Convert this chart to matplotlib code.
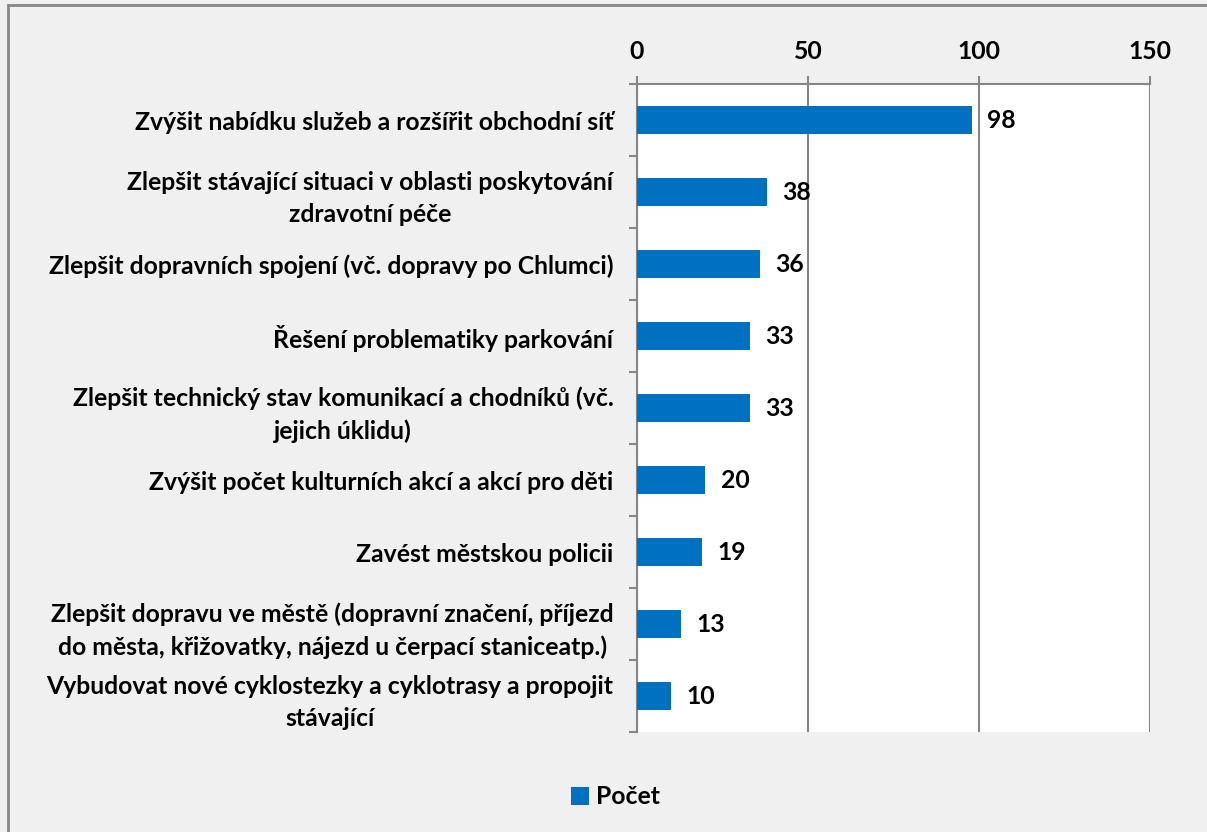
import matplotlib
matplotlib.use("Agg")
import matplotlib.pyplot as plt
from matplotlib.patches import Rectangle
from matplotlib.ticker import FixedLocator

# Survey answers (top to bottom as shown)
categories = [
    "Zvýšit nabídku služeb a rozšířit obchodní síť",
    "Zlepšit stávající situaci v oblasti poskytování\nzdravotní péče",
    "Zlepšit dopravních spojení (vč. dopravy po Chlumci)",
    "Řešení problematiky parkování",
    "Zlepšit technický stav komunikací a chodníků (vč.\njejich úklidu)",
    "Zvýšit počet kulturních akcí a akcí pro děti",
    "Zavést městskou policii",
    "Zlepšit dopravu ve městě (dopravní značení, příjezd\ndo města, křižovatky, nájezd u čerpací staniceatp.)",
    "Vybudovat nové cyklostezky a cyklotrasy a propojit\nstávající",
]
counts = [98, 38, 36, 33, 33, 20, 19, 13, 10]
series_name = "Počet"
x_ticks = [0, 50, 100, 150]

bar_color = "#0070c0"
grid_color = "#868686"
bg_color = "#f0f0f0"
fs = 17.8

plt.rcParams["font.family"] = ["Lato", "DejaVu Sans"]
plt.rcParams["font.weight"] = "bold"

W, H = 1207, 832
fig = plt.figure(figsize=(W / 100, H / 100), dpi=100, facecolor=bg_color)
ax = fig.add_axes([637 / W, 1 - 732 / H, (1150 - 637) / W, (732 - 84) / H])
ax.set_facecolor("white")

n = len(categories)
ypos = list(range(n))
bars = ax.barh(ypos, counts, height=0.39, color=bar_color, label=series_name, zorder=3)

ax.set_xlim(0, 150)
ax.set_ylim(n - 0.5, -0.5)

# x axis on top
ax.xaxis.set_ticks_position("top")
ax.xaxis.set_label_position("top")
ax.set_xticks(x_ticks)
ax.set_xticklabels([str(t) for t in x_ticks], fontsize=fs, fontweight="bold")
ax.tick_params(axis="x", direction="out", length=6, width=1.5, color=grid_color, pad=9)
ax.grid(axis="x", color=grid_color, linewidth=1.5, zorder=1)

# y axis: labels at centres, tick marks at boundaries
ax.set_yticks(ypos)
ax.set_yticklabels(categories, fontsize=fs, fontweight="bold",
                   multialignment="center", linespacing=1.5)
ax.tick_params(axis="y", which="major", length=0, pad=17)
ax.yaxis.set_minor_locator(FixedLocator([i - 0.5 for i in range(n + 1)]))
ax.tick_params(axis="y", which="minor", direction="out", length=6, width=1.5, color=grid_color)

for side in ["right", "bottom"]:
    ax.spines[side].set_visible(False)
for side in ["left", "top"]:
    ax.spines[side].set_color(grid_color)
    ax.spines[side].set_linewidth(1.5)

for bar, v in zip(bars, counts):
    ax.annotate(str(v), (bar.get_width(), bar.get_y() + bar.get_height() / 2),
                xytext=(11, 0), textcoords="offset points",
                ha="left", va="center", fontsize=fs, fontweight="bold")

fig.legend(loc="center", bbox_to_anchor=(0.51, 1 - 797 / H), frameon=False,
           prop={"size": fs, "weight": "bold"}, handlelength=0.7, handleheight=0.7,
           handletextpad=0.3)

# chart area border
fig.add_artist(Rectangle((8 / W, -0.02), 1.05, 1.02 - 5 / H, transform=fig.transFigure,
                         facecolor="none", edgecolor=grid_color, linewidth=2))

fig.savefig("out.png", dpi=100, facecolor=bg_color)
